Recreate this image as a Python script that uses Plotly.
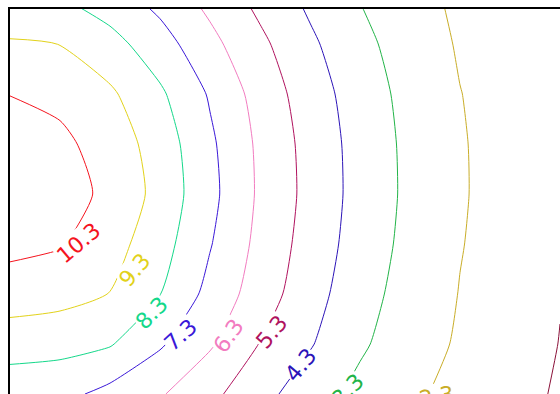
import plotly.graph_objects as go

# Sample grid (x across, y upward) and the measured field on it, one row per y value
X_VALUES = [0, 1, 2, 3, 4, 5, 6, 7, 8, 9, 10, 11]
Y_VALUES = [0, 1, 2, 3, 4, 5, 6, 7, 8]
Z_ROWS = [
    [7.75, 7.60, 7.00, 6.40, 5.55, 4.63, 3.76, 3.04, 2.47, 2.02, 1.61, 1.20],
    [8.68, 8.62, 8.38, 7.42, 6.42, 5.27, 4.38, 3.44, 2.76, 2.18, 1.74, 1.28],
    [9.85, 9.65, 9.28, 8.32, 7.00, 5.80, 4.70, 3.68, 2.90, 2.27, 1.84, 1.33],
    [10.55, 10.38, 9.70, 8.71, 7.36, 6.02, 4.89, 3.86, 3.02, 2.34, 1.90, 1.46],
    [10.97, 10.64, 10.12, 8.96, 7.58, 6.14, 5.00, 3.94, 3.09, 2.38, 1.94, 1.52],
    [10.80, 10.52, 9.88, 8.85, 7.48, 6.10, 4.96, 3.92, 3.07, 2.37, 1.94, 1.52],
    [10.28, 10.05, 9.46, 8.46, 7.20, 5.90, 4.80, 3.80, 2.99, 2.32, 1.90, 1.48],
    [9.40, 9.29, 8.65, 7.73, 6.58, 5.52, 4.48, 3.57, 2.83, 2.21, 1.80, 1.37],
    [8.45, 8.24, 7.67, 6.88, 5.95, 4.96, 4.05, 3.25, 2.62, 2.11, 1.73, 1.33],
]

# Contour levels and the colour of each line / label
LEVELS = [10.3, 9.3, 8.3, 7.3, 6.3, 5.3, 4.3, 3.3, 2.3, 1.3]
LEVEL_COLORS = ["#f5141e", "#e2d21a", "#14d88a", "#3a18d8", "#f27cc0",
                "#b0125e", "#2c14b8", "#22b448", "#c9ad28", "#8a1038"]

# Where each inline label sits on its line (data units) and its rotation
LABEL_X = [1.36, 2.48, 2.82, 3.40, 4.36, 5.22, 5.80, 6.74, 8.52, None]
LABEL_Y = [3.02, 2.48, 1.62, 1.18, 1.16, 1.24, 0.58, 0.08, -0.04, None]
LABEL_ANGLE = [-40, -50, -45, -42, -55, -50, -50, -45, -10, 0]

X_RANGE = [0, 11]
Y_RANGE = [0, 7.7]
PX_PER_UNIT = 50

fig = go.Figure()

for level, color in zip(LEVELS, LEVEL_COLORS):
    fig.add_trace(go.Contour(
        x=X_VALUES, y=Y_VALUES, z=Z_ROWS,
        autocontour=False,
        contours=dict(start=level, end=level, size=1,
                      coloring="lines", showlabels=False),
        colorscale=[[0, color], [1, color]],
        line=dict(width=1, smoothing=0.6),
        showscale=False,
        hoverinfo="skip",
    ))

annotations = []
for level, color, lx, ly, ang in zip(LEVELS, LEVEL_COLORS, LABEL_X, LABEL_Y, LABEL_ANGLE):
    if lx is None:
        continue
    anchor_y = max(ly, Y_RANGE[0])
    annotations.append(dict(
        x=lx, y=anchor_y, xref="x", yref="y",
        yshift=(ly - anchor_y) * PX_PER_UNIT,
        text=f"{level:.1f}", showarrow=False,
        textangle=ang,
        font=dict(family="DejaVu Sans", size=22, color=color),
        bgcolor="white", borderpad=0,
    ))

fig.update_layout(
    width=560, height=394, autosize=False,
    margin=dict(l=10, r=0, t=9, b=0, pad=0),
    paper_bgcolor="white", plot_bgcolor="white",
    showlegend=False,
    annotations=annotations,
    xaxis=dict(range=X_RANGE, side="top", showline=True, linecolor="black",
               linewidth=2, showgrid=False, zeroline=False,
               showticklabels=False, ticks=""),
    yaxis=dict(range=Y_RANGE, showline=True, linecolor="black",
               linewidth=2, showgrid=False, zeroline=False,
               showticklabels=False, ticks=""),
)

fig.write_html("out.html")
